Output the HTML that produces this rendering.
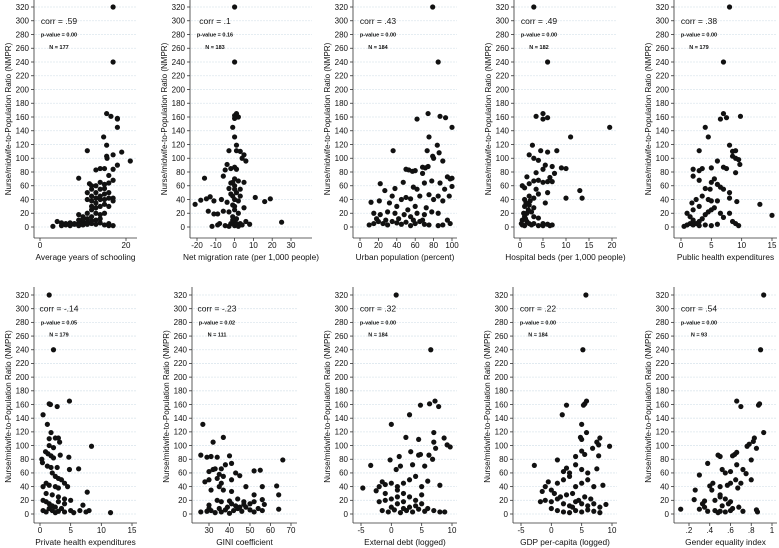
<!DOCTYPE html>
<html><head><meta charset="utf-8"><style>
body{margin:0;background:#fff;}
svg{display:block;font-family:"Liberation Sans",Arial,sans-serif;}
</style></head><body>
<svg id="chart" width="779" height="548" viewBox="0 0 779 548" xmlns="http://www.w3.org/2000/svg"></svg>
<script>
const yTicks=[0,20,40,60,80,100,120,140,160,180,200,220,240,260,280,300,320];
const titles=["Average years of schooling","Net migration rate (per 1,000 people)","Urban population (percent)","Hospital beds (per 1,000 people)","Public health expenditures","Private health expenditures","GINI coefficient","External debt (logged)","GDP per-capita (logged)","Gender equality index"];
const corrs=["corr = .59","corr = .1","corr = .43","corr = .49","corr = .38","corr = -.14","corr = -.23","corr = .32","corr = .22","corr = .54"];
const pvals=["p-value = 0.00","p-value = 0.16","p-value = 0.00","p-value = 0.00","p-value = 0.00","p-value = 0.05","p-value = 0.02","p-value = 0.00","p-value = 0.00","p-value = 0.00"];
const ns=["N = 177","N = 183","N = 184","N = 182","N = 179","N = 179","N = 111","N = 184","N = 184","N = 93"];
const xTickVals=[[0,20],[-20,-10,0,10,20,30],[0,20,40,60,80,100],[0,5,10,15,20],[0,5,10,15],[0,5,10,15],[30,40,50,60,70],[-5,0,5,10],[-5,0,5,10],[.2,.4,.6,.8,1]];
const xTickLabels=[["0","20"],["-20","-10","0","10","20","30"],["0","20","40","60","80","100"],["0","5","10","15","20"],["0","5","10","15"],["0","5","10","15"],["30","40","50","60","70"],["-5","0","5","10"],["-5","0","5","10"],[".2",".4",".6",".8","1"]];

const p1x=[17,17,15.5,16.5,18,18,18,14.8,11,19,15.5,15.5,15.6,17,21,18,9,14,15,13,17,11.5,12,14,16,15,17,12,13,14,15,16,11,12,13,14,15,17,12,13,14,11,12,9,10,11,10,9,8,7,6,5,4,3,5,6,7,8,9,10,11,12,13,14,15,16,17,16,13,12,14,16,15,13,14,15,16,13,10,11,12,9,14,12,11,13,15,16,17];
const p1y=[320,240,165,161,158,157,145,131,111,109,119,103,100,105,96,90,71,85,85,83,84,63,55,65,64,62,68,45,42,40,48,50,40,38,35,30,33,42,25,20,18,20,15,18,15,12,8,5,5,6,5,6,8,1,2,3,2,4,2,3,4,5,4,6,3,5,2,2,10,30,55,75,20,50,45,40,30,28,12,6,9,10,12,60,50,60,56,42,38];
const p2x=[0,0,1,0,1,2,0,-1,0,1,-3,1,3,5,4,6,-4,-2,0,1,-5,-16,-6,0,2,-2,5,0,3,-3,1,-1,11,19,16,-13,-15,-18,-21,-11,-7,-4,0,2,-1,5,-14,-11,-9,-6,-3,0,2,-1,1,0,-2,3,6,8,25,-12,-9,-8,-5,-3,0,2,4,-1,1,0,-2,3,0,-1];
const p2y=[320,240,165,162,160,160,158,145,131,119,111,111,110,105,100,96,91,85,87,84,83,71,74,70,67,64,65,60,55,56,50,45,43,41,37,44,41,39,33,38,40,36,40,38,32,28,23,19,19,23,22,25,20,15,12,8,5,5,8,4,7,1,3,5,2,1,2,1,3,10,5,30,48,45,55,65];
const p3x=[79,85,74,62,87,93,100,75,36,73,84,79,80,86,90,50,53,57,60,68,71,74,68,95,100,98,22,38,27,47,58,62,70,78,87,100,92,85,97,12,21,35,45,50,55,65,75,80,90,15,22,30,38,48,55,62,70,78,85,95,10,15,20,25,30,35,40,45,50,55,60,65,70,75,85,90,98,18,28,42,58,68,40,60,72,32,52];
const p3y=[320,240,165,157,161,159,145,131,111,111,119,103,100,108,96,84,83,81,82,87,86,88,78,73,71,70,63,56,53,65,58,55,64,67,64,59,55,45,45,36,38,45,40,43,41,45,47,40,38,20,18,22,20,18,15,20,18,22,20,10,3,5,8,5,3,8,6,4,7,2,5,8,4,3,2,3,5,12,10,12,10,10,30,30,28,35,25];
const p4x=[3,6,3.5,5,5,6,19.5,11,2.7,4.5,8,6,2,3,4,5.5,7,9,10,7.5,1.5,3.5,5,6.5,0.5,1,2,3,4,5,6,7,13,13.5,10,5.5,1,2,3,4,6,1,2,3,1.5,2.5,3,4,0.5,1,1.5,2,0.5,1,0.3,2.5,3,4,5,6,7,6.5,5,1.2,1.8,2.2,3.5,0.8,1.3];
const p4y=[320,240,161,165,157,159,145,131,119,111,111,109,105,100,97,90,88,86,85,78,73,79,84,72,60,57,63,67,68,65,66,66,53,42,42,35,40,45,42,48,50,30,32,28,20,22,15,13,10,15,8,5,3,2,5,3,5,2,5,4,3,2,2,12,25,38,55,20,35];
const p5x=[8,7,7,6.5,7.5,9.8,4,4.5,3,8,8.5,9,8.5,9,9.5,9.7,6,7,7.5,9,2,3,3.5,5,3,2,4,5,5.5,6,6.5,7,8,3.5,4.5,2.5,5,6,8,9.2,13,15,8,7,8.5,9,9.5,1,1.5,2,2.5,3,3.5,4,4.5,5,1,1.5,2,3,4,5,6,0.5,2,3,1.8,4.8,5.5,6.5];
const p5y=[320,240,165,157,159,161,145,131,111,119,110,111,103,100,98,91,96,87,85,79,84,82,85,86,68,74,56,65,70,62,58,55,50,45,40,40,38,38,42,37,33,17,20,14,8,5,2,20,15,10,5,8,12,18,22,25,3,5,3,2,3,2,4,1,25,30,35,55,28,20];
const p6x=[1.5,2.2,1.5,1.7,2.8,4.8,0.5,1.2,1.8,1.5,2.5,3,3.2,1.5,2.2,0.9,1.3,1.8,2.2,3.3,4.7,0.3,0.4,1.2,1.8,2.8,4.8,6.3,8.4,7.7,2,2.5,3,3.5,4,1,1.5,0.5,2.5,3,4.5,1,2,3,4,0.5,1,1.5,2,2.5,3,4,5,0.5,1,1.5,2,2.5,3,3.5,4,5,6.5,7,7.5,8,11.5,5.5];
const p6y=[320,240,161,160,157,165,145,131,119,110,111,111,105,100,97,91,88,85,82,86,83,80,75,70,68,68,65,66,99,32,60,55,52,50,45,45,42,40,40,38,40,30,28,25,22,20,18,15,12,10,18,15,20,5,3,8,5,2,4,8,3,5,5,13,3,5,2,2];
const p7x=[27,32,37,26,29,31,34,40,41,38,66,30,32,33,36,35,37,28,30,34,36,41,43,45,52,55,31,35,37,41,48,56,63,64,52,34,36,40,44,47,52,56,57,30,31,26,29,33,36,38,40,42,44,46,48,50,52,54,56,64,39,43,47,41,35,45,50,30];
const p7y=[131,105,112,86,83,84,83,85,74,72,79,62,65,66,66,58,55,47,50,52,45,50,60,56,63,64,35,40,35,33,40,40,41,28,28,20,18,19,22,18,18,21,14,13,5,3,4,2,3,6,1,5,8,4,10,6,3,8,5,7,10,12,14,15,8,10,15,8];
const p8x=[0.8,6.5,4.8,6.3,7.2,7.8,3,0,2.4,4.5,7,8.7,7,7.3,9.2,9.7,-0.2,1.3,3.2,4.5,4.8,6.2,6.8,-3.4,0.8,1.5,3.5,5.5,-1.5,-1,0,1,2,3,4,5,6,8,-4.7,-2.5,-2,-1,1,2,3,4,5,-2,-1,0,1,2,3,4,5,6,-1.5,-0.5,0.5,1.5,2.5,3.5,4.5,5.5,7,8,8.8,0,2,1];
const p8y=[320,240,159,161,165,157,145,131,112,109,119,111,105,96,101,98,79,84,91,86,87,86,80,71,65,70,72,70,47,43,45,40,45,50,55,40,48,42,38,34,40,30,35,30,25,20,28,18,20,22,15,18,10,12,15,8,5,3,6,2,5,3,7,4,5,3,3,10,8,25];
const p9x=[5.7,5.2,5.3,5.5,5.8,2.5,1.8,5,5.8,4.8,5,7.5,8,9.6,7.8,-2.8,1,2.5,4,5,5.5,6.8,7.8,7.5,2,3,4,5,6,-0.5,-1,0,1,2,3,4,5,6,7,8.5,-1.5,0.5,1.5,2.5,3.5,4.5,5.5,6.5,-1.8,-1,0,1,2,3,4,5,6,7,9,8,0,1,2,3,4,5,6,7,8,3.5];
const p9y=[320,240,159,161,165,159,145,131,119,112,109,105,111,99,101,71,79,67,84,92,87,96,85,66,62,60,72,65,60,47,40,35,45,50,55,40,45,50,40,42,33,30,25,28,30,20,25,22,18,20,18,22,15,12,18,15,12,15,14,10,8,5,3,2,5,3,6,4,2,10];
const p10x=[.92,.89,.66,.7,.87,.88,.92,.83,.82,.78,.76,.85,.48,.5,.62,.64,.66,.8,.38,.3,.52,.55,.6,.66,.72,.75,.8,.4,.43,.42,.5,.57,.6,.65,.7,.67,.26,.25,.35,.33,.45,.5,.55,.6,.52,.12,.3,.35,.38,.45,.48,.5,.55,.6,.62,.68,.72,.85,.86,.5,.58];
const p10y=[320,240,165,157,159,161,119,111,106,102,99,96,86,84,85,87,90,79,74,57,65,60,62,72,65,59,50,41,45,35,40,42,45,50,45,38,35,21,19,15,20,25,22,18,12,7,7,10,4,5,2,4,3,5,8,10,4,6,3,28,15];
const XS=[p1x,p2x,p3x,p4x,p5x,p6x,p7x,p8x,p9x,p10x];
const YS=[p1y,p2y,p3y,p4y,p5y,p6y,p7y,p8y,p9y,p10y];

const L=[
 {ax:34,right:137,top:0,y0:227,y320:7,xb:238,d0:0,p0:40,d1:20,p1:126},
 {ax:190,right:312,top:0,y0:227,y320:7,xb:238,d0:-20,p0:197,d1:30,p1:291},
 {ax:353,right:457,top:0,y0:227,y320:7,xb:238,d0:0,p0:360,d1:100,p1:452},
 {ax:514,right:617,top:0,y0:227,y320:7,xb:238,d0:0,p0:520,d1:20,p1:612},
 {ax:674,right:777,top:0,y0:227,y320:7,xb:238,d0:0,p0:681,d1:15,p1:772},
 {ax:34,right:137,top:287,y0:514,y320:295,xb:523,d0:0,p0:40,d1:15,p1:132},
 {ax:192,right:297,top:287,y0:514,y320:295,xb:523,d0:30,p0:209,d1:70,p1:291},
 {ax:353,right:457,top:287,y0:514,y320:295,xb:523,d0:-5,p0:361,d1:10,p1:452},
 {ax:513,right:617,top:287,y0:514,y320:295,xb:523,d0:-5,p0:521,d1:10,p1:612},
 {ax:674,right:777,top:287,y0:514,y320:295,xb:523,d0:.2,p0:689,d1:1,p1:772}
];
const NS="http://www.w3.org/2000/svg";
const svg=document.getElementById('chart');
function mk(tag,attrs,parent){const e=document.createElementNS(NS,tag);for(const k in attrs)e.setAttribute(k,attrs[k]);parent.appendChild(e);return e;}

L.forEach((g,i)=>{
  const xs=v=>g.p0+(v-g.d0)*(g.p1-g.p0)/(g.d1-g.d0);
  const ys=v=>g.y0+(v)*(g.y320-g.y0)/320;
  const grp=mk('g',{},svg);
  
  
  yTicks.forEach(t=>{
    const gl=mk('line',{x1:g.ax+1,x2:g.right,y1:ys(t),y2:ys(t),stroke:'#dde7ee','stroke-width':0.8,'stroke-dasharray':'2,1'},grp);
    
    
    const tk=mk('line',{x1:g.ax-3,x2:g.ax,y1:ys(t),y2:ys(t),stroke:'#333','stroke-width':0.8},grp);
    
    
    const tl=mk('text',{x:g.ax-5,y:ys(t)+2.8,'text-anchor':'end','font-size':8,fill:'#111'},grp);
    tl.textContent=t;
    
    
  });
  const ya=mk('line',{x1:g.ax,x2:g.ax,y1:g.top,y2:g.xb,stroke:'#333','stroke-width':0.8},grp);
  
  
  const xa=mk('line',{x1:g.ax,x2:g.right,y1:g.xb,y2:g.xb,stroke:'#333','stroke-width':0.8},grp);
  
  
  xTickVals[i].forEach((t,j)=>{
    const tk=mk('line',{x1:xs(t),x2:xs(t),y1:g.xb,y2:g.xb+3,stroke:'#333','stroke-width':0.8},grp);
    
    
    const tl=mk('text',{x:xs(t),y:g.xb+10,'text-anchor':'middle','font-size':8,fill:'#111'},grp);
    tl.textContent=xTickLabels[i][j];
    
    
  });
  const yt=mk('text',{x:0,y:0,'text-anchor':'middle','font-size':8,fill:'#111',transform:`translate(${g.ax-23},${(g.y320+g.y0)/2+2}) rotate(-90)`},grp);
  yt.textContent='Nurse/midwife-to-Population Ratio (NMPR)';
  
  
  const xt=mk('text',{x:(g.ax+g.right)/2,y:g.xb+22,'text-anchor':'middle','font-size':8.3,fill:'#111'},grp);
  xt.textContent=titles[i];
  
  
  const cx=g.ax+25;
  const c=mk('text',{x:cx,y:ys(300)+3,'text-anchor':'middle','font-size':8.5,fill:'#111'},grp);
  c.textContent=corrs[i];
  
  
  const pv=mk('text',{x:cx,y:ys(280)+2,'text-anchor':'middle','font-size':5.5,'font-weight':'bold',fill:'#111'},grp);
  pv.textContent=pvals[i];
  
  
  const n=mk('text',{x:cx,y:ys(262)+2,'text-anchor':'middle','font-size':5.5,'font-weight':'bold',fill:'#111'},grp);
  n.textContent=ns[i];
  
  
  XS[i].forEach((xv,k)=>{
    const p=mk('circle',{cx:xs(xv),cy:ys(YS[i][k]),r:2.6,fill:'#111'},grp);
    
    
  });
});
</script>
</body></html>
